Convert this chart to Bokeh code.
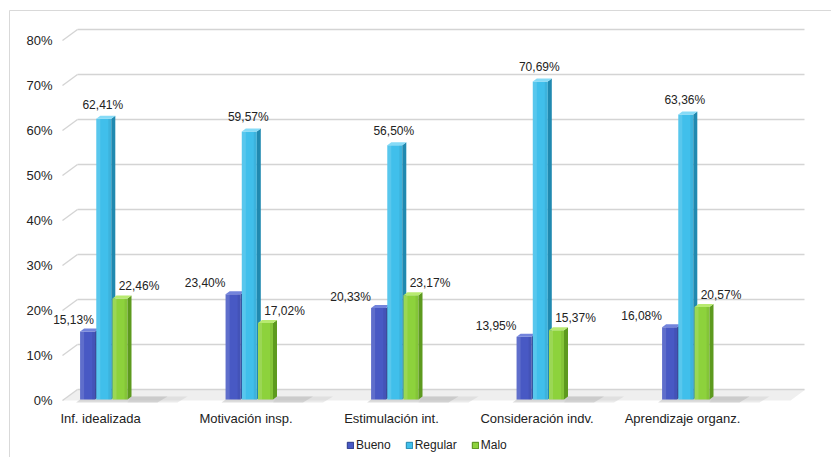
import numpy as np
from bokeh.plotting import figure
from bokeh.models import Range1d, Legend, LegendItem, ColumnDataSource
from bokeh.core.properties import value
from bokeh.embed import file_html
from bokeh.resources import INLINE

# ---------------- data ----------------
categories = ["Inf. idealizada", "Motivación insp.", "Estimulación int.",
              "Consideración indv.", "Aprendizaje organz."]
series_names = ["Bueno", "Regular", "Malo"]
bueno = [15.13, 23.40, 20.33, 13.95, 16.08]
regular = [62.41, 59.57, 56.50, 70.69, 63.36]
malo = [22.46, 17.02, 23.17, 15.37, 20.57]
y_ticks = [0, 10, 20, 30, 40, 50, 60, 70, 80]
y_tick_labels = ["0%", "10%", "20%", "30%", "40%", "50%", "60%", "70%", "80%"]

# ---------------- styles / geometry ----------------
FONT = "Liberation Sans"
TXT = "#222222"
W, H = 831, 457
X0, Y0 = 100.0, 400.0   # pixel position of category 0 / value 0 (front plane)
PX_X = 145.5            # pixels per category slot
PX_Y = 4.5              # pixels per percent


def dx(px):
    return px / PX_X


def dy(px):
    return px / PX_Y


front_col = {"Bueno": "#4859c4", "Regular": "#40bfeb", "Malo": "#8dd23c"}
side_col = {"Bueno": "#2c3a8e", "Regular": "#2089b0", "Malo": "#5d9a1e"}
top_col = {"Bueno": "#7384dc", "Regular": "#86dbf7", "Malo": "#b8ea70"}
edge_col = {"Bueno": "#2a3788", "Regular": "#1f86ad", "Malo": "#4f8a12"}
bar_off_px = {"Bueno": -12.9, "Regular": 3.3, "Malo": 19.5}
lab_off_px = {"Bueno": (-28, 11), "Regular": (-1, 14), "Malo": (19, 12)}
BAR_W = 15.0
DEPTH = (4.0, 3.0)
BASE = dy(1)

p = figure(width=W, height=H, output_backend="svg", toolbar_location=None,
           x_range=Range1d(dx(0 - X0), dx(W - X0)),
           y_range=Range1d(dy(Y0 - H), dy(Y0 - 0)),
           x_axis_location=None, y_axis_location=None,
           min_border=0, background_fill_color="white",
           border_fill_color="white", outline_line_color=None)
p.xgrid.grid_line_color = None
p.ygrid.grid_line_color = None

# chart-area border (left and top edges visible)
p.line([dx(9 - X0), dx(9 - X0), dx(W - X0)], [dy(Y0 - H), dy(Y0 - 10), dy(Y0 - 10)],
       line_color="#d9d9d9", line_width=1)

# floor
p.patch([dx(-38), dx(-23), dx(705), dx(690)], [0, dy(11), dy(11), 0],
        fill_color="#efefef", line_color=None)

# back wall gridlines + slanted stubs
yt = np.array(y_ticks, dtype=float)
n = len(y_ticks)
p.segment(x0=[dx(-23)] * n, y0=list(yt + dy(11)), x1=[dx(704)] * n, y1=list(yt + dy(11)),
          line_color="#d4d4d4", line_width=1.6)
p.segment(x0=[dx(-38)] * n, y0=list(yt), x1=[dx(-23)] * n, y1=list(yt + dy(11)),
          line_color="#d4d4d4", line_width=1.4)

# y tick labels
p.text(x=[dx(52 - X0)] * n, y=y_ticks, text=y_tick_labels, text_align="right",
       text_baseline="middle", text_font=value(FONT), text_font_size="13px",
       text_color=TXT)

cx0 = np.arange(len(categories), dtype=float)

# category labels
p.text(x=list(cx0), y=[dy(Y0 - 418)] * len(categories), text=categories,
       text_align="center", text_baseline="middle", text_font=value(FONT),
       text_font_size="13px", text_color=TXT)

# group shadows on the floor
for i in range(len(categories)):
    xl = float(cx0[i] + dx(bar_off_px["Bueno"] - BAR_W / 2))
    xr = float(cx0[i] + dx(bar_off_px["Malo"] + BAR_W / 2))
    p.patch([xl, xr + dx(DEPTH[0]), xr + dx(40), xr + dx(30), xl - dx(4)],
            [BASE, BASE + dy(3), BASE + dy(3), BASE - dy(3), BASE - dy(3)],
            fill_color="#9a9a9a", fill_alpha=0.35, line_color=None)
    p.patch([xr + dx(DEPTH[0]), xr + dx(60), xr + dx(50), xr],
            [BASE + dy(3), BASE + dy(3), BASE - dy(3), BASE - dy(3)],
            fill_color="#bdbdbd", fill_alpha=0.3, line_color=None)

vals = {"Bueno": bueno, "Regular": regular, "Malo": malo}
legend_items = []
for name in series_names:
    v = np.array(vals[name], dtype=float)
    cx = cx0 + dx(bar_off_px[name])
    xl = cx - dx(BAR_W / 2)
    xr = cx + dx(BAR_W / 2)
    top = BASE + v
    ddx, ddy = dx(DEPTH[0]), dy(DEPTH[1])
    # front face
    p.vbar(x=list(cx), width=dx(BAR_W), bottom=BASE, top=list(top),
           fill_color=front_col[name], line_color=None)
    # soft highlight on the left of the front face, shade on the right
    p.quad(left=list(xl), right=list(xl + dx(4)), bottom=BASE, top=list(top),
           fill_color="white", fill_alpha=0.13, line_color=None)
    p.quad(left=list(xr - dx(3)), right=list(xr), bottom=BASE, top=list(top),
           fill_color="black", fill_alpha=0.06, line_color=None)
    # side face
    side_xs = [[float(a), float(a + ddx), float(a + ddx), float(a)] for a in xr]
    side_ys = [[BASE, BASE + ddy, float(t + ddy), float(t)] for t in top]
    p.patches(side_xs, side_ys, fill_color=side_col[name], line_color=None)
    # top face
    top_xs = [[float(a), float(a + ddx), float(b + ddx), float(b)] for a, b in zip(xl, xr)]
    top_ys = [[float(t), float(t + ddy), float(t + ddy), float(t)] for t in top]
    p.patches(top_xs, top_ys, fill_color=top_col[name], line_color=None)
    # value labels
    ox, oy = lab_off_px[name]
    lx = cx + dx(ox)
    if name == "Bueno":
        lx = np.maximum(lx, dx(73 - X0))
    labels = [f"{x:.2f}%".replace(".", ",") for x in v]
    src = ColumnDataSource(dict(x=list(lx), y=list(top + dy(oy)), t=labels))
    p.text(x="x", y="y", text="t", source=src, text_align="center",
           text_baseline="middle", text_font=value(FONT),
           text_font_size="12px", text_color=TXT)
    # legend proxy: a zero-size bar placed off-canvas; only its swatch is used
    r = p.vbar(x=[dx(-500)], width=0.0, top=[dy(-500)], bottom=[dy(-500)],
               fill_color=front_col[name], line_color=edge_col[name], line_width=1)
    legend_items.append(LegendItem(label=name, renderers=[r]))

legend = Legend(items=legend_items, orientation="horizontal", location=(346, 5),
                label_text_font=FONT, label_text_font_size="12px",
                label_text_color=TXT, glyph_width=8, glyph_height=8,
                label_standoff=2, spacing=14, padding=0, margin=0,
                border_line_color=None, background_fill_alpha=0)
p.add_layout(legend, "center")

open("out.html", "w").write(file_html(p, INLINE))
